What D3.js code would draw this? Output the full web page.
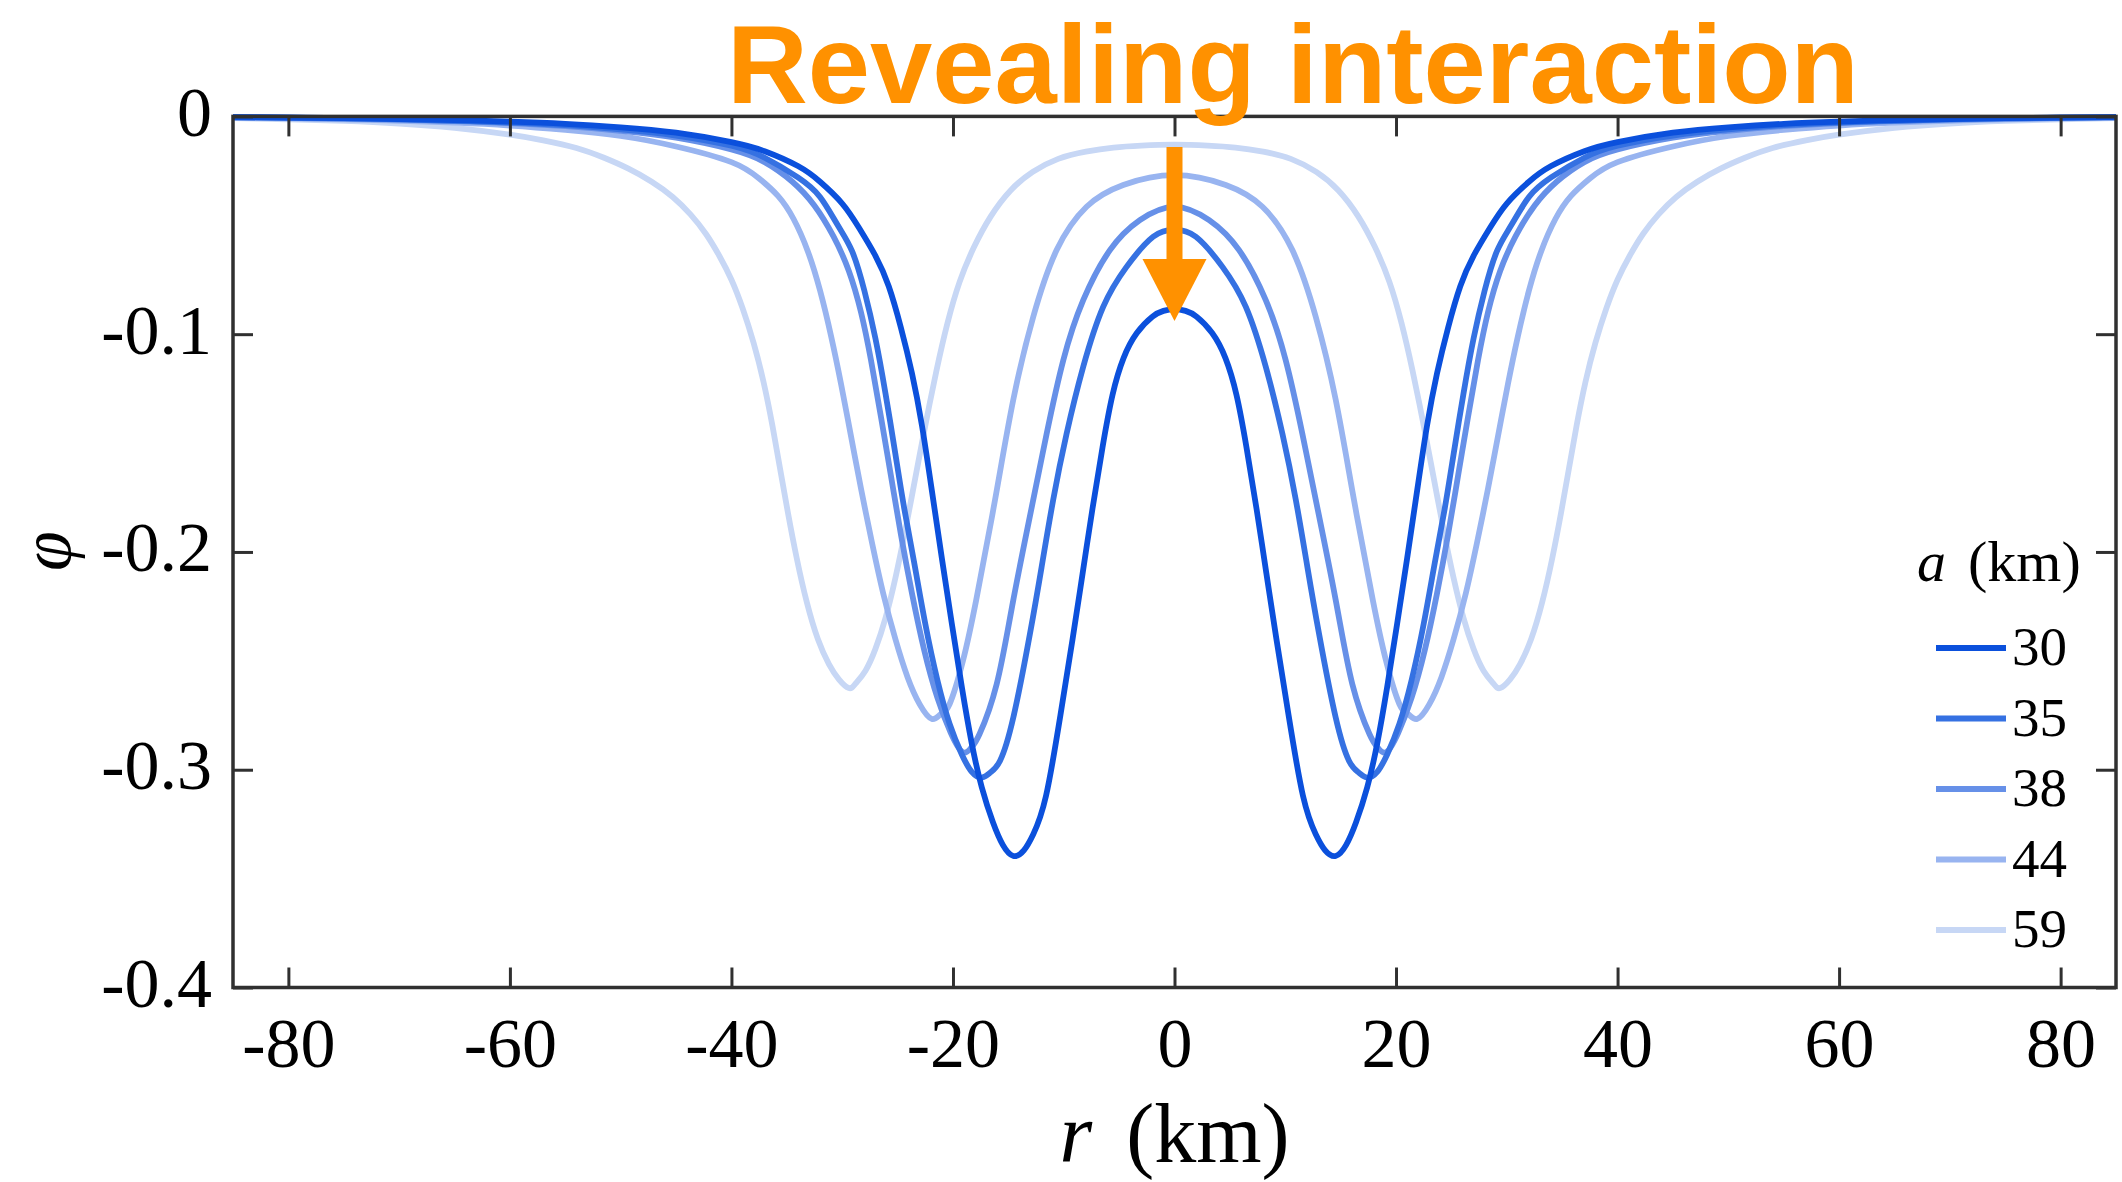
<!DOCTYPE html>
<html>
<head>
<meta charset="utf-8">
<script src="https://cdn.jsdelivr.net/npm/d3@7"></script>
<style>
  html, body { margin: 0; padding: 0; background: #fff; }
  svg { display: block; }
</style>
</head>
<body>
<svg id="chart" width="2122" height="1182"></svg>
<script>
// ---------------- data ----------------
const seriesNames = ["30", "35", "38", "44", "59"];   // a (km)
const xTicks = [-80, -60, -40, -20, 0, 20, 40, 60, 80];
const yTicks = [0, -0.1, -0.2, -0.3, -0.4];

const r30 = [-85,-80,-75,-70,-65,-60,-55,-50,-45,-40,-37,-34,-32,-30,-28.5,-27,-25.8,-24.7,-23.7,-22.8,
  -21.9,-21,-20.1,-19.2,-18.3,-17.4,-16.4,-15.5,-14.55,-13.6,-12.75,-11.6,-10.3,-9.2,-8.3,-7.4,-6.5,-5.6,-4.6,-3.4,-2,-1,0,
  1,2,3.4,4.6,5.6,6.5,7.4,8.3,9.2,10.3,11.6,12.75,13.6,14.55,15.5,16.4,17.4,18.3,19.2,20.1,21,21.9,
  22.8,23.7,24.7,25.8,27,28.5,30,32,34,37,40,45,50,55,60,65,70,75,80,85];
const phi30 = [-0.0003,-0.0005,-0.0008,-0.0012,-0.0017,-0.0024,-0.0034,-0.005,-0.0075,-0.0118,-0.016,-0.0228,-0.03,-0.04,-0.051,-0.064,-0.078,-0.097,-0.118,-0.142,
  -0.172,-0.203,-0.233,-0.262,-0.288,-0.308,-0.324,-0.3345,-0.3396,-0.337,-0.3296,-0.312,-0.275,-0.24,-0.21,-0.18,-0.152,-0.128,-0.111,-0.0995,-0.092,-0.0893,-0.0885,
  -0.0893,-0.092,-0.0995,-0.111,-0.128,-0.152,-0.18,-0.21,-0.24,-0.275,-0.312,-0.3296,-0.337,-0.3396,-0.3345,-0.324,-0.308,-0.288,-0.262,-0.233,-0.203,-0.172,
  -0.142,-0.118,-0.097,-0.078,-0.064,-0.051,-0.04,-0.03,-0.0228,-0.016,-0.0118,-0.0075,-0.005,-0.0034,-0.0024,-0.0017,-0.0012,-0.0008,-0.0005,-0.0003];

const r35 = [-85,-80,-75,-70,-65,-60,-55,-50,-45,-40,-37,-34,-32,-30.4,-29.1,-28,-27,-26.1,-25.2,-24.4,
  -23.5,-22.5,-21.4,-20.3,-19.2,-18.3,-17.4,-16.6,-15.75,-14.55,-13.05,-12,-10.95,-9.74,-8.24,-6.44,-4.33,-1.93,0,
  1.93,4.33,6.44,8.24,9.74,10.95,12,13.05,14.55,15.75,16.6,17.4,18.3,19.2,20.3,21.4,22.5,23.5,
  24.4,25.2,26.1,27,28,29.1,30.4,32,34,37,40,45,50,55,60,65,70,75,80,85];
const phi35 = [-0.0004,-0.0006,-0.0009,-0.0014,-0.002,-0.0028,-0.004,-0.006,-0.0088,-0.0135,-0.019,-0.028,-0.037,-0.05,-0.062,-0.08,-0.102,-0.127,-0.155,-0.18,
  -0.205,-0.233,-0.259,-0.279,-0.293,-0.301,-0.3036,-0.3012,-0.2959,-0.276,-0.2376,-0.207,-0.176,-0.1457,-0.115,-0.0875,-0.0691,-0.0553,-0.052,
  -0.0553,-0.0691,-0.0875,-0.115,-0.1457,-0.176,-0.207,-0.2376,-0.276,-0.2959,-0.3012,-0.3036,-0.301,-0.293,-0.279,-0.259,-0.233,-0.205,
  -0.18,-0.155,-0.127,-0.102,-0.08,-0.062,-0.05,-0.037,-0.028,-0.019,-0.0135,-0.0088,-0.006,-0.004,-0.0028,-0.002,-0.0014,-0.0009,-0.0006,-0.0004];

const r38 = [-85,-80,-75,-70,-65,-60,-55,-50,-45,-40,-37,-34.5,-32.5,-30.8,-29.4,-28.3,-27.4,-26.5,-25.6,-24.7,
  -23.7,-22.6,-21.4,-20.2,-19.1,-18.3,-17.6,-16.05,-14.55,-12.75,-11.54,-10.04,-8.24,-5.83,-3.13,0,
  3.13,5.83,8.24,10.04,11.54,12.75,14.55,16.05,17.6,18.3,19.1,20.2,21.4,22.6,23.7,
  24.7,25.6,26.5,27.4,28.3,29.4,30.8,32.5,34.5,37,40,45,50,55,60,65,70,75,80,85];
const phi38 = [-0.0004,-0.0007,-0.001,-0.0015,-0.0022,-0.0031,-0.0045,-0.0066,-0.0098,-0.0152,-0.021,-0.03,-0.041,-0.055,-0.071,-0.09,-0.112,-0.138,-0.165,-0.192,
  -0.219,-0.245,-0.267,-0.283,-0.292,-0.2895,-0.2836,-0.2606,-0.222,-0.176,-0.1457,-0.112,-0.0844,-0.0614,-0.0476,-0.0415,
  -0.0476,-0.0614,-0.0844,-0.112,-0.1457,-0.176,-0.222,-0.2606,-0.2836,-0.2895,-0.292,-0.283,-0.267,-0.245,-0.219,
  -0.192,-0.165,-0.138,-0.112,-0.09,-0.071,-0.055,-0.041,-0.03,-0.021,-0.0152,-0.0098,-0.0066,-0.0045,-0.0031,-0.0022,-0.0015,-0.001,-0.0007,-0.0004];

const r44 = [-85,-80,-75,-70,-65,-60,-55,-50,-45,-40,-37.5,-35.8,-34.4,-33.1,-32,-31,-30.1,-29.2,-28.3,-27.3,
  -26.3,-25.2,-24.1,-23,-21.9,-21.1,-20.3,-19.1,-17.9,-16.2,-14.55,-12.75,-10.64,-7.94,-4.63,0,
  4.63,7.94,10.64,12.75,14.55,16.2,17.9,19.1,20.3,21.1,21.9,23,24.1,25.2,26.3,
  27.3,28.3,29.2,30.1,31,32,33.1,34.4,35.8,37.5,40,45,50,55,60,65,70,75,80,85];
const phi44 = [-0.0005,-0.0009,-0.0013,-0.002,-0.0029,-0.0042,-0.0062,-0.009,-0.0138,-0.021,-0.0285,-0.0365,-0.047,-0.062,-0.08,-0.101,-0.123,-0.147,-0.171,-0.196,
  -0.219,-0.24,-0.2575,-0.27,-0.2767,-0.2745,-0.2698,-0.25,-0.222,-0.176,-0.13,-0.092,-0.0614,-0.0415,-0.0315,-0.027,
  -0.0315,-0.0415,-0.0614,-0.092,-0.13,-0.176,-0.222,-0.25,-0.2698,-0.2745,-0.2767,-0.27,-0.2575,-0.24,-0.219,
  -0.196,-0.171,-0.147,-0.123,-0.101,-0.08,-0.062,-0.047,-0.0365,-0.0285,-0.021,-0.0138,-0.009,-0.0062,-0.0042,-0.0029,-0.002,-0.0013,-0.0009,-0.0005];

const r59 = [-85,-80,-75,-70,-65,-60,-57,-54,-51.5,-49.3,-47.2,-45.3,-43.7,-42.3,-41.1,-40,-39,-38,-37.1,-36.3,
  -35.6,-34.9,-34.1,-33.2,-32.2,-31.2,-30.3,-29.4,-28.8,-27.9,-27,-26.1,-25.2,-24.3,-23.4,-22.5,-21.5,-20.5,-19.4,-18.1,
  -16.6,-14.8,-12.8,-10.5,-8,-5.5,-3,0,
  3,5.5,8,10.5,12.8,14.8,16.6,
  18.1,19.4,20.5,21.5,22.5,23.4,24.3,25.2,26.1,27,27.9,28.8,29.4,30.3,31.2,32.2,33.2,34.1,34.9,35.6,
  36.3,37.1,38,39,40,41.1,42.3,43.7,45.3,47.2,49.3,51.5,54,57,60,65,70,75,80,85];
const phi59 = [-0.0008,-0.0013,-0.0021,-0.0033,-0.0053,-0.0084,-0.011,-0.0145,-0.019,-0.024,-0.03,-0.037,-0.045,-0.054,-0.064,-0.075,-0.088,-0.104,-0.122,-0.142,
  -0.162,-0.182,-0.203,-0.223,-0.24,-0.2515,-0.2585,-0.2625,-0.2605,-0.2545,-0.2445,-0.2305,-0.212,-0.19,-0.166,-0.142,-0.117,-0.095,-0.076,-0.06,
  -0.046,-0.034,-0.0255,-0.0195,-0.0162,-0.0143,-0.0134,-0.013,
  -0.0134,-0.0143,-0.0162,-0.0195,-0.0255,-0.034,-0.046,
  -0.06,-0.076,-0.095,-0.117,-0.142,-0.166,-0.19,-0.212,-0.2305,-0.2445,-0.2545,-0.2605,-0.2625,-0.2585,-0.2515,-0.24,-0.223,-0.203,-0.182,-0.162,
  -0.142,-0.122,-0.104,-0.088,-0.075,-0.064,-0.054,-0.045,-0.037,-0.03,-0.024,-0.019,-0.0145,-0.011,-0.0084,-0.0053,-0.0033,-0.0021,-0.0013,-0.0008];

const seriesR   = [r30, r35, r38, r44, r59];
const seriesPhi = [phi30, phi35, phi38, phi44, phi59];
const colors = ["#0B50DC", "#3571E2", "#6690E8", "#98B4F0", "#C7D7F5"];

const titleText = "Revealing interaction";
// annotation arrow (data units): at r = 0, from phi -0.014 down to tip -0.094
const arrowR = 0, arrowTop = -0.014, arrowHeadBase = -0.0655, arrowTip = -0.094;

// ---------------- layout ----------------
const plot = { left: 233, right: 2116, top: 116.4, bottom: 987.5 };
const svg = d3.select("#chart");

const x = d3.scaleLinear().domain([-85, 85]).range([plot.left, plot.right]);
const y = d3.scaleLinear().domain([-0.4, 0]).range([plot.bottom, plot.top]);

const serif = "'Liberation Serif', 'Times New Roman', serif";
const axisColor = "#303030";

// curves (lightest first so darker lines are on top)
const line = d3.line().x(d => x(d[0])).y(d => y(d[1])).curve(d3.curveNatural);
svg.append("clipPath").attr("id", "clip").append("rect")
  .attr("x", plot.left).attr("y", plot.top - 4).attr("width", plot.right - plot.left).attr("height", plot.bottom - plot.top + 4);
const gLines = svg.append("g").attr("clip-path", "url(#clip)");
for (let i = seriesNames.length - 1; i >= 0; i--) {
  const pts = seriesR[i].map((r, k) => [r, seriesPhi[i][k]]);
  gLines.append("path").datum(pts)
    .attr("d", line)
    .attr("fill", "none")
    .attr("stroke", colors[i])
    .attr("stroke-width", 5.8)
    .attr("stroke-linejoin", "round")
    .attr("stroke-linecap", "round");
}

// axes
const tickLen = 20;
const bottomAxis = d3.axisBottom(x).tickValues(xTicks).tickSize(-tickLen).tickPadding(30).tickFormat(d => String(d));
const gB = svg.append("g").attr("transform", `translate(0,${plot.bottom})`).call(bottomAxis);
const topAxis = d3.axisTop(x).tickValues(xTicks).tickSize(-tickLen).tickFormat("");
const gT = svg.append("g").attr("transform", `translate(0,${plot.top})`).call(topAxis);
const leftAxis = d3.axisLeft(y).tickValues(yTicks).tickSize(-tickLen).tickPadding(21).tickFormat(d => d === 0 ? "0" : String(d));
const gL = svg.append("g").attr("transform", `translate(${plot.left},0)`).call(leftAxis);
const rightAxis = d3.axisRight(y).tickValues(yTicks).tickSize(-tickLen).tickFormat("");
const gR = svg.append("g").attr("transform", `translate(${plot.right},0)`).call(rightAxis);

[gB, gT, gL, gR].forEach(g => {
  g.select(".domain").remove();
  g.selectAll(".tick line").attr("stroke", axisColor).attr("stroke-width", 3);
  g.selectAll("text").attr("fill", "#000").attr("font-family", serif).attr("font-size", 70);
});
gL.selectAll("text").attr("dy", "0.27em");

// frame
svg.append("rect")
  .attr("x", plot.left).attr("y", plot.top)
  .attr("width", plot.right - plot.left).attr("height", plot.bottom - plot.top)
  .attr("fill", "none").attr("stroke", axisColor).attr("stroke-width", 3.5);

// axis labels
const xl = svg.append("text")
  .attr("x", x(0)).attr("y", 1162)
  .attr("text-anchor", "middle")
  .attr("font-family", serif).attr("font-size", 84).attr("fill", "#000");
xl.append("tspan").attr("font-style", "italic").text("r");
xl.append("tspan").attr("dx", 34).text("(km)");

svg.append("text")
  .attr("transform", `translate(70,551) rotate(-90)`)
  .attr("text-anchor", "middle")
  .attr("font-family", serif).attr("font-style", "italic").attr("font-size", 72).attr("fill", "#000")
  .text("φ");

// legend
const legTop = 648, legStep = 70.5;
const legTitle = svg.append("text")
  .attr("x", 1917).attr("y", 581)
  .attr("font-family", serif).attr("font-size", 58).attr("fill", "#000");
legTitle.append("tspan").attr("font-style", "italic").text("a");
legTitle.append("tspan").attr("dx", 22).text("(km)");

seriesNames.forEach((name, i) => {
  const ly = legTop + i * legStep;
  svg.append("line")
    .attr("x1", 1936).attr("x2", 2006).attr("y1", ly).attr("y2", ly)
    .attr("stroke", colors[i]).attr("stroke-width", 6);
  svg.append("text")
    .attr("x", 2012).attr("y", ly + 17)
    .attr("font-family", serif).attr("font-size", 55).attr("fill", "#000")
    .text(name);
});

// title
svg.append("text")
  .attr("x", 727).attr("y", 103)
  .attr("font-family", "'Liberation Sans', Arial, sans-serif").attr("font-weight", "bold")
  .attr("font-size", 112).attr("fill", "#FF9100")
  .attr("textLength", 1132).attr("lengthAdjust", "spacingAndGlyphs")
  .text(titleText);

// arrow
const ax = x(arrowR);
svg.append("line")
  .attr("x1", ax).attr("x2", ax)
  .attr("y1", y(arrowTop)).attr("y2", y(arrowHeadBase) + 4)
  .attr("stroke", "#FF9100").attr("stroke-width", 16);
svg.append("path")
  .attr("d", `M${ax - 32},${y(arrowHeadBase)} L${ax + 32},${y(arrowHeadBase)} L${ax},${y(arrowTip)} Z`)
  .attr("fill", "#FF9100");
</script>
</body>
</html>
